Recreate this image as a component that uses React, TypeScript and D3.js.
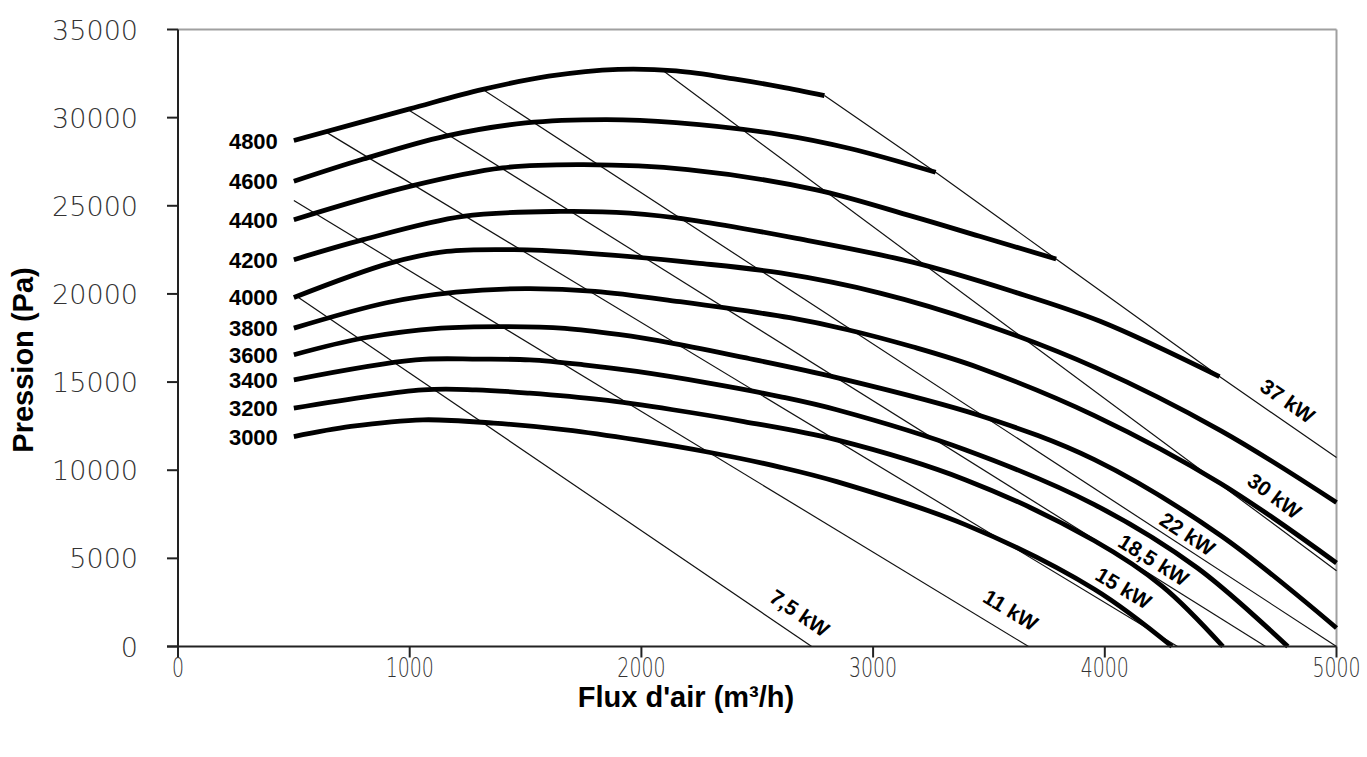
import React from 'react';
import * as d3 from 'd3';

// Axis ticks
const xTicks = [0, 1000, 2000, 3000, 4000, 5000];
const yTicks = [0, 5000, 10000, 15000, 20000, 25000, 30000, 35000];

// Fan curves: [airflow m3/h, pressure Pa]
const rpm3000 = [[500, 11910], [746, 12480], [1057, 12860], [1363, 12670], [1674, 12290], [1980, 11720], [2291, 11020], [2597, 10180], [2843, 9350], [3400, 6900], [3955, 3250], [4290, 0]];
const rpm3200 = [[500, 13520], [1057, 14560], [1286, 14560], [1518, 14370], [1825, 14000], [2136, 13430], [2442, 12760], [2843, 11720], [3400, 9450], [3955, 6000], [4250, 3400], [4510, 0]];
const rpm3400 = [[500, 15130], [1026, 16260], [1300, 16300], [1518, 16260], [1751, 15980], [1980, 15600], [2291, 14940], [2597, 14180], [2843, 13430], [3400, 11150], [3955, 8050], [4400, 4450], [4790, 0]];
const rpm3600 = [[500, 16550], [800, 17500], [1135, 18060], [1410, 18150], [1670, 18050], [1900, 17700], [2136, 17200], [2440, 16400], [2843, 15250], [3460, 13100], [3955, 10600], [4500, 6300], [5000, 1050]];
const rpm3800 = [[500, 18060], [900, 19500], [1200, 20100], [1500, 20300], [1800, 20150], [2166, 19560], [2640, 18650], [2890, 17970], [3170, 17000], [3460, 15800], [3955, 13100], [4500, 9250], [5000, 4740]];
const rpm4000 = [[500, 19800], [915, 21750], [1160, 22410], [1450, 22510], [1730, 22340], [2240, 21750], [2600, 21190], [3030, 20050], [3460, 18370], [3960, 15820], [4500, 12250], [5000, 8170]];
const rpm4200 = [[500, 21940], [800, 23080], [1230, 24400], [1650, 24680], [1950, 24580], [2240, 24150], [2670, 23150], [3170, 21800], [3600, 20150], [3980, 18450], [4495, 15310]];
const rpm4400 = [[500, 24210], [1000, 26100], [1400, 27150], [1750, 27330], [2200, 27050], [2750, 25920], [3170, 24400], [3460, 23270], [3790, 21980]];
const rpm4600 = [[500, 26390], [800, 27650], [1150, 28940], [1500, 29700], [1850, 29890], [2150, 29720], [2600, 29040], [2900, 28250], [3270, 26900]];
const rpm4800 = [[500, 28700], [1000, 30500], [1316, 31600], [1600, 32350], [1900, 32740], [2150, 32650], [2400, 32200], [2600, 31750], [2790, 31250]];

const speedNames = ['3000', '3200', '3400', '3600', '3800', '4000', '4200', '4400', '4600', '4800'];
const speedCurves = [rpm3000, rpm3200, rpm3400, rpm3600, rpm3800, rpm4000, rpm4200, rpm4400, rpm4600, rpm4800];

// Power lines
const kw75 = [[520, 19800], [2735, 0]];
const kw11 = [[500, 25300], [3671, 0]];
const kw15 = [[643, 29150], [4314, 0]];
const kw185 = [[992, 30460], [4694, 0]];
const kw22 = [[1316, 31600], [5000, 0]];
const kw30 = [[2100, 32600], [5000, 4300]];
const kw37 = [[2790, 31250], [3270, 26900], [3790, 21980], [4495, 15310], [5000, 10720]];

const powerNames = ['7,5 kW', '11 kW', '15 kW', '18,5 kW', '22 kW', '30 kW', '37 kW'];
const powerLines = [kw75, kw11, kw15, kw185, kw22, kw30, kw37];
const powerLabelAt = [[2683, 1902], [3594, 2072], [4081, 3321], [4211, 4911], [4357, 6387], [4733, 8545], [4789, 13937]];

export default function App() {
  const W = 1367;
  const H = 757;
  const x = d3.scaleLinear().domain([0, 5000]).range([178, 1336.5]);
  const y = d3.scaleLinear().domain([0, 35000]).range([646.5, 29.5]);

  const smooth = d3.line<number[]>().x(d => x(d[0])).y(d => y(d[1])).curve(d3.curveCatmullRom.alpha(0.5));
  const straight = d3.line<number[]>().x(d => x(d[0])).y(d => y(d[1]));

  const angleAt = (pts: number[][], vx: number) => {
    let i = 0;
    while (i < pts.length - 2 && pts[i + 1][0] < vx) i++;
    const a = pts[i], b = pts[i + 1];
    return (Math.atan2(y(b[1]) - y(a[1]), x(b[0]) - x(a[0])) * 180) / Math.PI;
  };

  const tickFont = "'DejaVu Sans', Verdana, sans-serif";
  const boldFont = "'Liberation Sans', Arial, sans-serif";

  return (
    <svg width={W} height={H} style={{ position: 'absolute', left: 0, top: 0, background: '#fff' }}>
      <rect x={0} y={0} width={W} height={H} fill="#fff" />
      {/* plot frame */}
      <line x1={x(0)} x2={x(5000)} y1={y(35000)} y2={y(35000)} stroke="#a0a0a0" strokeWidth={2} />
      <line x1={x(5000)} x2={x(5000)} y1={y(35000)} y2={y(0)} stroke="#a0a0a0" strokeWidth={2} />

      {/* power lines */}
      {powerLines.map((pts, i) => (
        <path key={'p' + i} d={straight(pts) || ''} fill="none" stroke="#111" strokeWidth={1.2} />
      ))}

      {/* fan curves */}
      {speedCurves.map((pts, i) => (
        <path key={'c' + i} d={smooth(pts) || ''} fill="none" stroke="#000" strokeWidth={4.8} />
      ))}

      {/* speed labels */}
      {speedCurves.map((pts, i) => (
        <text key={'s' + i} x={x(pts[0][0]) - 16} y={y(pts[0][1]) + 8} textAnchor="end"
          fontFamily={boldFont} fontWeight="bold" fontSize={22} fill="#000">{speedNames[i]}</text>
      ))}

      {/* power labels */}
      {powerLabelAt.map((p, i) => {
        const ang = angleAt(powerLines[i], p[0]);
        return (
          <text key={'l' + i} transform={`translate(${x(p[0])},${y(p[1])}) rotate(${ang})`}
            textAnchor="middle" dominantBaseline="central"
            fontFamily={boldFont} fontWeight="bold" fontSize={21} fill="#000">{powerNames[i]}</text>
        );
      })}

      {/* axes */}
      <line x1={x(0)} x2={x(0)} y1={y(35000)} y2={y(0)} stroke="#222" strokeWidth={2} />
      <line x1={x(0) - 11} x2={x(5000)} y1={y(0)} y2={y(0)} stroke="#222" strokeWidth={2} />
      {yTicks.map(t => (
        <g key={'yt' + t}>
          <line x1={x(0) - 11} x2={x(0)} y1={y(t)} y2={y(t)} stroke="#222" strokeWidth={2} />
          <text x={138} y={y(t) + 10} textAnchor="end" fontFamily={tickFont} fontWeight={200}
            fontSize={27} fill="#333">{t}</text>
        </g>
      ))}
      {xTicks.map(t => (
        <g key={'xt' + t}>
          <line x1={x(t)} x2={x(t)} y1={y(0)} y2={y(0) + 11} stroke="#222" strokeWidth={2} />
          <text transform={`translate(${x(t)},${y(0) + 30}) scale(0.7,1)`} textAnchor="middle"
            fontFamily={tickFont} fontWeight={200} fontSize={27} fill="#333">{t}</text>
        </g>
      ))}

      {/* axis titles */}
      <text x={686} y={707} textAnchor="middle" fontFamily={boldFont} fontWeight="bold" fontSize={29} fill="#000">
        Flux d'air (m³/h)
      </text>
      <text transform="translate(33,360) rotate(-90)" textAnchor="middle" fontFamily={boldFont}
        fontWeight="bold" fontSize={29} fill="#000">Pression (Pa)</text>
    </svg>
  );
}
